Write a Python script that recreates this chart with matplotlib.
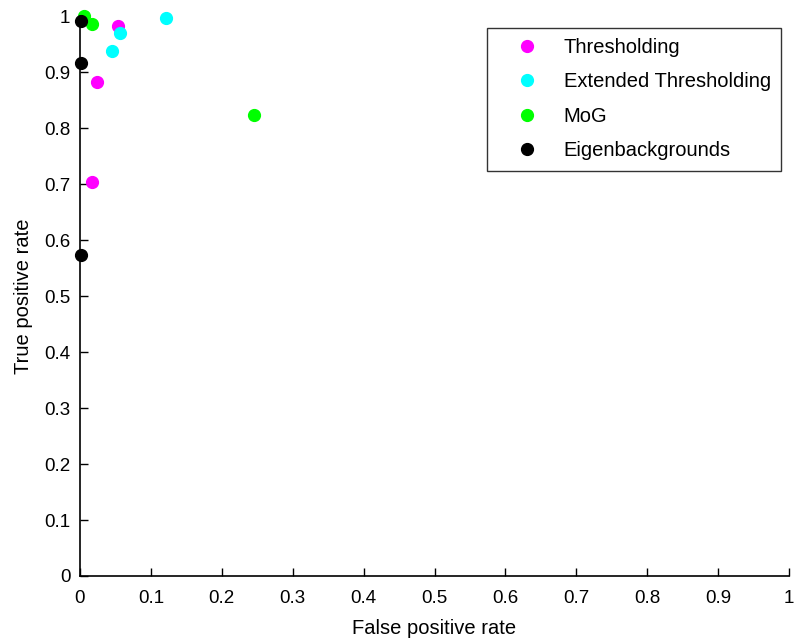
import matplotlib

matplotlib.use("Agg")
import matplotlib.pyplot as plt
from matplotlib.ticker import FixedLocator, FuncFormatter

plt.rcParams["font.family"] = ["Liberation Sans", "DejaVu Sans"]

# (false positive rate, true positive rate) per method
thresh_fpr = [0.054, 0.024, 0.017]
thresh_tpr = [0.982, 0.882, 0.703]
ext_fpr = [0.121, 0.057, 0.045]
ext_tpr = [0.996, 0.969, 0.937]
mog_fpr = [0.006, 0.017, 0.246]
mog_tpr = [1.000, 0.986, 0.823]
eigen_fpr = [0.002, 0.001, 0.001]
eigen_tpr = [0.992, 0.917, 0.574]

labels = ["Thresholding", "Extended Thresholding", "MoG", "Eigenbackgrounds"]
colors = ["#ff00ff", "#00ffff", "#00ff00", "#000000"]
ticks = [0, 0.1, 0.2, 0.3, 0.4, 0.5, 0.6, 0.7, 0.8, 0.9, 1]

fig = plt.figure(figsize=(7.95, 6.44), dpi=100)
ax = fig.add_axes([0.1006, 0.1056, 0.8919, 0.8694])

series = [
    (thresh_fpr, thresh_tpr),
    (ext_fpr, ext_tpr),
    (mog_fpr, mog_tpr),
    (eigen_fpr, eigen_tpr),
]
for (xs, ys), label, color in zip(series, labels, colors):
    ax.plot(xs, ys, linestyle="none", marker="o", markersize=8.5,
            color=color, markeredgecolor=color, label=label, clip_on=False)

ax.set_xlim(0, 1)
ax.set_ylim(0, 1)
fmt = FuncFormatter(lambda v, _: f"{v:g}")
ax.xaxis.set_major_locator(FixedLocator(ticks))
ax.yaxis.set_major_locator(FixedLocator(ticks))
ax.xaxis.set_major_formatter(fmt)
ax.yaxis.set_major_formatter(fmt)
ax.tick_params(direction="in", length=6, width=1, labelsize=13.5)
ax.tick_params(axis="x", pad=10)
ax.tick_params(axis="y", pad=7)
ax.spines["top"].set_visible(False)
ax.spines["right"].set_visible(False)
ax.spines["left"].set_linewidth(1.2)
ax.spines["bottom"].set_linewidth(1.2)

ax.set_xlabel("False positive rate", fontsize=14.5, labelpad=9)
ax.set_ylabel("True positive rate", fontsize=14.5, labelpad=8)

leg = ax.legend(loc="upper right", bbox_to_anchor=(0.9887, 0.979), fontsize=14.5,
                frameon=True, fancybox=False, edgecolor="black",
                borderpad=0.5, labelspacing=0.77, handlelength=2.9,
                handletextpad=0.4, borderaxespad=0)
leg.get_frame().set_linewidth(1.0)

fig.savefig("out.png", dpi=100)
